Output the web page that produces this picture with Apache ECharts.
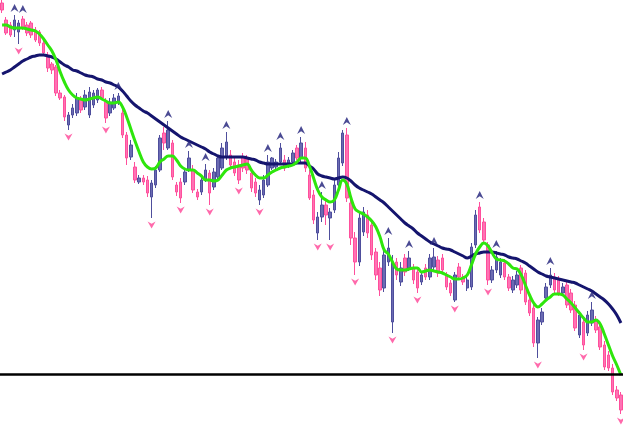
<!DOCTYPE html>
<html>
<head>
<meta charset="utf-8">
<script src="https://cdn.jsdelivr.net/npm/echarts@6/dist/echarts.min.js"></script>
<style>html,body{margin:0;padding:0;background:#fff;}#c{width:623px;height:439px;}</style>
</head>
<body>
<div id="c"></div>
<script>
// OHLC prices (chart units)
const opens = [437,420,415,410,408,421,415,417,410,408,397,385,376,373,347,343,315,325,327,340,333,325,335,340,350,338,327,332,337,327,305,283,273,258,262,260,243,255,270,307,292,297,255,258,258,270,270,248,248,260,267,253,263,272,283,285,278,275,283,282,267,258,240,245,255,272,273,278,280,275,278,292,282,292,265,245,207,223,235,222,230,255,277,305,237,202,178,208,225,215,188,172,152,178,118,178,158,182,172,172,168,158,172,163,173,180,182,165,157,140,173,163,152,153,195,233,218,195,160,170,165,177,163,150,155,172,167,140,132,97,118,142,155,163,160,147,155,147,135,105,118,107,117,120,113,95,85,72,50,45];
const closes = [430,407,405,420,417,412,407,405,400,397,387,372,370,347,342,323,325,332,342,330,345,348,347,350,342,322,338,342,344,305,282,295,260,262,258,247,257,270,302,297,310,263,248,242,268,282,250,243,260,270,247,268,282,292,298,275,267,260,272,270,252,247,250,260,278,282,278,292,272,280,287,282,297,272,242,220,223,235,225,228,255,282,307,242,202,178,222,228,207,185,165,150,185,192,178,165,172,168,182,160,152,165,163,182,183,167,170,153,147,165,163,158,160,193,225,210,200,160,170,183,178,163,152,160,165,150,138,127,97,120,128,153,165,150,147,153,135,130,112,125,95,125,130,110,93,73,72,48,42,30];
const lows = [427,405,403,403,396,410,404,402,398,394,384,368,366,344,340,319,310,322,324,327,330,322,332,337,340,317,324,330,335,302,275,280,257,256,255,243,222,252,268,290,290,260,244,237,255,268,247,240,245,258,235,250,260,270,280,272,264,256,268,266,248,243,235,242,253,270,270,275,269,272,275,280,278,268,240,216,200,218,215,200,227,252,274,238,195,165,174,204,202,180,160,144,148,174,107,160,154,164,169,156,147,155,160,160,170,163,166,150,144,138,160,155,149,150,192,207,196,155,157,167,162,160,149,147,152,146,135,124,93,82,115,139,152,147,144,144,132,127,109,102,90,104,114,107,90,70,69,45,39,26];
const highs = [440,423,418,425,420,424,418,419,413,410,400,388,378,375,350,345,328,336,347,344,350,353,350,352,353,342,342,346,347,332,308,300,278,265,265,264,260,274,305,313,319,300,258,262,272,289,275,251,263,276,270,272,285,297,308,290,282,280,287,285,270,262,255,265,285,283,281,297,285,283,290,295,303,298,270,250,228,248,240,232,260,288,310,312,242,208,228,233,230,220,192,178,190,202,185,182,178,186,189,176,172,169,176,186,192,184,186,168,160,168,177,166,164,197,230,238,222,198,174,189,182,181,166,164,169,175,170,143,135,123,132,157,172,167,164,157,159,151,139,129,122,129,138,124,117,99,89,76,54,48];

// Fast (green) and slow (navy) moving-average lines
const fastMA = [415,415,413,412,412,412,411,410,409,406,401,395,389,380,368,358,350,345,342,341,340,341,342,343,341,339,337,337,338,333,323,311,299,288,278,273,271,272,278,281,284,284,280,274,271,270,270,267,264,260,260,259,260,265,270,272,273,274,275,276,270,265,262,262,265,268,270,272,273,274,275,278,282,282,274,262,250,243,240,238,240,250,260,256,242,231,228,226,223,219,213,203,190,186,178,171,170,170,171,172,172,168,169,170,169,168,167,165,163,161,161,162,165,175,186,193,197,194,187,181,180,179,176,172,171,165,155,145,137,133,136,140,143,146,146,145,141,137,132,127,122,118,118,120,116,106,95,84,75,65];
const slowMA = [366,368,370,373,376,379,381,383,384,385,385,384,383,381,378,375,373,370,369,367,365,364,363,361,360,358,357,355,353,349,344,339,335,332,329,327,324,321,318,315,312,309,306,303,301,299,297,295,293,291,288,286,284,283,283,283,283,283,283,282,281,280,278,277,276,276,276,276,276,276,276,277,277,277,274,271,266,264,263,262,261,262,263,262,259,255,252,250,248,246,243,240,237,233,229,225,221,217,214,211,207,204,201,198,196,194,192,191,190,188,186,184,182,184,186,187,188,188,188,187,186,185,183,182,181,179,177,174,171,168,166,164,163,162,161,160,159,158,157,155,153,151,149,146,143,140,136,131,125,117];

// Fractal markers (bar indices)
const upFractals = [3,5,28,40,45,49,54,64,67,72,77,83,93,98,104,115,119,132,142];
const downFractals = [4,16,25,36,43,50,57,62,76,79,85,94,100,109,117,129,140,149];

// Horizontal level
const levelLine = 66;

const categories = opens.map((_, i) => String(i + 1));
const ohlc = opens.map((o, i) => [o, closes[i], lows[i], highs[i]]);

const chart = echarts.init(document.getElementById('c'), null, {renderer: 'canvas'});
const upArrow = 'path://M5,0 L10,9 L5,6 L0,9 Z';
const downArrow = 'path://M0,0 L5,3 L10,0 L5,9 Z';

chart.setOption({
  animation: false,
  backgroundColor: '#ffffff',
  grid: {left: 0, right: 0, top: 0, bottom: 0},
  xAxis: {type: 'category', data: categories, boundaryGap: true, show: false},
  yAxis: {type: 'value', min: 1, max: 440, show: false, splitLine: {show: false}},
  series: [
    {
      type: 'candlestick',
      data: ohlc,
      barWidth: '72%',
      itemStyle: {
        color: '#6b6bb3', borderColor: '#4e4e9c',
        color0: '#ff72b4', borderColor0: '#ff4f9c',
        borderWidth: 1
      },
      markLine: {
        silent: true, symbol: ['none', 'none'], label: {show: false},
        lineStyle: {color: '#000000', width: 2.5, type: 'solid'},
        data: [{yAxis: levelLine}]
      },
      z: 2
    },
    {
      type: 'line', data: slowMA, smooth: 0.4, showSymbol: false,
      lineStyle: {color: '#15156e', width: 3}, z: 3
    },
    {
      type: 'line', data: fastMA, smooth: 0.4, showSymbol: false,
      lineStyle: {color: '#2ee60c', width: 3}, z: 4
    },
    {
      type: 'scatter',
      data: upFractals.map(i => [i, highs[i]]),
      symbol: upArrow, symbolSize: [8, 8], symbolOffset: [0, -7],
      itemStyle: {color: '#2a2a80', opacity: 0.85}, z: 5
    },
    {
      type: 'scatter',
      data: downFractals.map(i => [i, lows[i]]),
      symbol: downArrow, symbolSize: [8, 7], symbolOffset: [0, 7],
      itemStyle: {color: '#ff4f9c', opacity: 0.85}, z: 5
    }
  ]
});
</script>
</body>
</html>
